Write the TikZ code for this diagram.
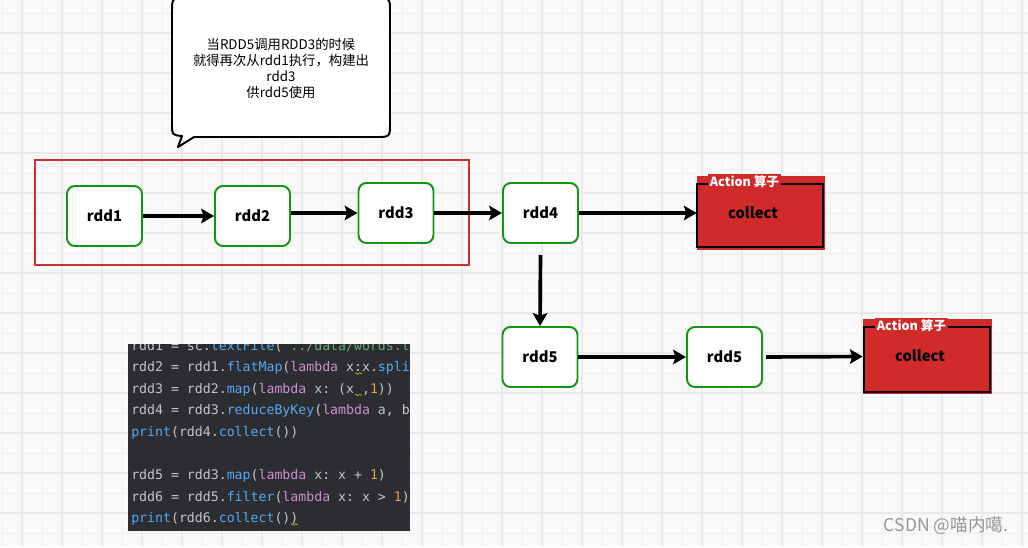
\documentclass[tikz,border=0pt]{standalone}
\usepackage{fontspec}
\setmainfont{Noto Sans CJK SC}
\setmonofont{DejaVu Sans Mono}
\usetikzlibrary{arrows.meta,decorations.pathmorphing}
\definecolor{gridbg}{RGB}{249,249,249}
\definecolor{gridminor}{RGB}{240,240,240}
\definecolor{gridmajor}{RGB}{234,234,234}
\definecolor{rddgreen}{RGB}{20,150,20}
\definecolor{framered}{RGB}{210,45,45}
\definecolor{actred}{RGB}{208,42,42}
\definecolor{codebg}{RGB}{43,45,48}
\definecolor{codefg}{RGB}{196,198,204}
\definecolor{codefn}{RGB}{86,168,245}
\definecolor{codekw}{RGB}{207,142,214}
\definecolor{codenum}{RGB}{222,160,90}
\definecolor{codestr}{RGB}{106,171,115}
\definecolor{squig}{RGB}{190,160,60}
\definecolor{wmark}{RGB}{150,150,150}
\newcommand{\cfn}[1]{\textcolor{codefn}{#1}}
\newcommand{\ckw}[1]{\textcolor{codekw}{#1}}
\newcommand{\cnum}[1]{\textcolor{codenum}{#1}}
\newcommand{\cstr}[1]{\textcolor{codestr}{#1}}
\tikzset{
  rdd/.style={draw=rddgreen,line width=1.4pt,fill=white,rounded corners=0.2cm,
    minimum width=1.875cm,minimum height=1.5cm,font=\fontsize{10.5}{12}\selectfont\bfseries},
  flow/.style={line width=2.6pt,-{Stealth[length=0.32cm,width=0.36cm,inset=0.06cm]}},
  actfill/.style={fill=actred,inner sep=0pt},
  actedge/.style={draw=black,line width=1.8pt},
  acttag/.style={fill=actred,text=white,inner sep=1.5pt,font=\fontsize{9}{10}\selectfont\bfseries},
  acttext/.style={font=\fontsize{10.5}{12}\selectfont\bfseries},
  codeline/.style={anchor=west,inner sep=0pt,text=codefg,font=\ttfamily\fontsize{9.4}{11}\selectfont},
  squiggle/.style={draw=squig,line width=0.5pt,decorate,decoration={snake,amplitude=0.6pt,segment length=2.5pt}},
}
\begin{document}
\begin{tikzpicture}[x=0.025cm,y=-0.025cm]
\useasboundingbox (0,0) rectangle (1028,547);
% grid background
\fill[gridbg] (0,0) rectangle (1028,547);
\foreach \i in {0,...,25}{
  \draw[gridminor,line width=0.7pt] (2+40*\i,0)--(2+40*\i,547);
  \draw[gridmajor,line width=1.2pt] (22+40*\i,0)--(22+40*\i,547);
}
\foreach \i in {0,...,13}{
  \draw[gridminor,line width=0.7pt] (0,13+40*\i)--(1028,13+40*\i);
  \draw[gridmajor,line width=1.2pt] (0,33+40*\i)--(1028,33+40*\i);
}
% speech bubble
\draw[line width=1.4pt,fill=white,line join=round] (172,12) .. controls (172,-2) .. (186,-2) -- (376,-2)
  .. controls (390,-2) .. (390,12) -- (390,123) .. controls (390,137) .. (376,137) -- (194,137)
  -- (178,147) -- (182,136) .. controls (172,135) .. (172,124) -- cycle;
\node[align=center,font=\fontsize{9.5}{11.4}\selectfont] (note) at (281,68.5)
  {当RDD5调用RDD3的时候\\就得再次从rdd1执行，构建出\\rdd3\\供rdd5使用};
% first stage
\draw[framered,line width=2pt] (35,160) rectangle (469,265);
\node[rdd] (rdd1) at (104.5,216) {rdd1};
\node[rdd] (rdd2) at (252.5,216) {rdd2};
\node[rdd] (rdd3) at (396,213) {rdd3};
\node[rdd] (rdd4) at (540.5,213) {rdd4};
\node[rdd] (rdd5a) at (540,357) {rdd5};
\node[rdd] (rdd5b) at (724.5,357) {rdd5};
% action boxes
\node[actfill,minimum width=3.2cm,minimum height=1.85cm] (collect1) at (761,213) {};
\draw[actedge] (697,184) rectangle (823,247);
\node[acttag] (tag1) at (744.5,182) {Action 算子};
\node[acttext] (ctext1) at (753,213) {collect};
\node[actfill,minimum width=3.225cm,minimum height=1.875cm] (collect2) at (927.5,356.5) {};
\draw[actedge] (864,327) rectangle (990,392);
\node[acttag] (tag2) at (911.5,326) {Action 算子};
\node[acttext] (ctext2) at (920,356) {collect};
% connectors
\draw[flow] (rdd1)--(rdd2);
\draw[flow] (rdd2.east |- rdd3.west)--(rdd3.west);
\draw[flow] (rdd3)--(rdd4);
\draw[flow] (rdd4)--(collect1);
\draw[flow] ([yshift=-0.275cm]rdd4.south)--(rdd5a.north);
\draw[flow] (rdd5a)--(rdd5b);
\draw[flow] ([xshift=0.075cm]rdd5b.east)--(collect2.west);
% code screenshot
\begin{scope}
\clip (128,344) rectangle (410,531);
\fill[codebg] (128,344) rectangle (410,531);
\node[codeline] (code1) at (131,346.4) {rdd1 = sc.\cfn{textFile}(\cstr{"../data/words.txt"})};
\node[codeline] (code2) at (131,368) {rdd2 = rdd1.\cfn{flatMap}(\ckw{lambda} x:x.\cfn{split}(\cstr{" "}))};
\node[codeline] (code3) at (131,389.6) {rdd3 = rdd2.\cfn{map}(\ckw{lambda} x: (x ,\cnum{1}))};
\node[codeline] (code4) at (131,411.2) {rdd4 = rdd3.\cfn{reduceByKey}(\ckw{lambda} a, b: a + b)};
\node[codeline] (code5) at (131,432.8) {\cfn{print}(rdd4.\cfn{collect}())};
\node[codeline] (code7) at (131,476) {rdd5 = rdd3.\cfn{map}(\ckw{lambda} x: x + \cnum{1})};
\node[codeline] (code8) at (131,497.6) {rdd6 = rdd5.\cfn{filter}(\ckw{lambda} x: x > \cnum{1})};
\node[codeline] (code9) at (131,519.2) {\cfn{print}(rdd6.\cfn{collect}())};
\draw[squiggle] (355,373.5)--(362,373.5);
\draw[squiggle] (355,395)--(362,395);
\draw[squiggle] (291,524.5)--(298,524.5);
\end{scope}
% watermark
\node[text=wmark,font=\fontsize{12.5}{14}\selectfont] (wmark) at (946,526) {CSDN @喵内噶.};
\end{tikzpicture}
\end{document}
